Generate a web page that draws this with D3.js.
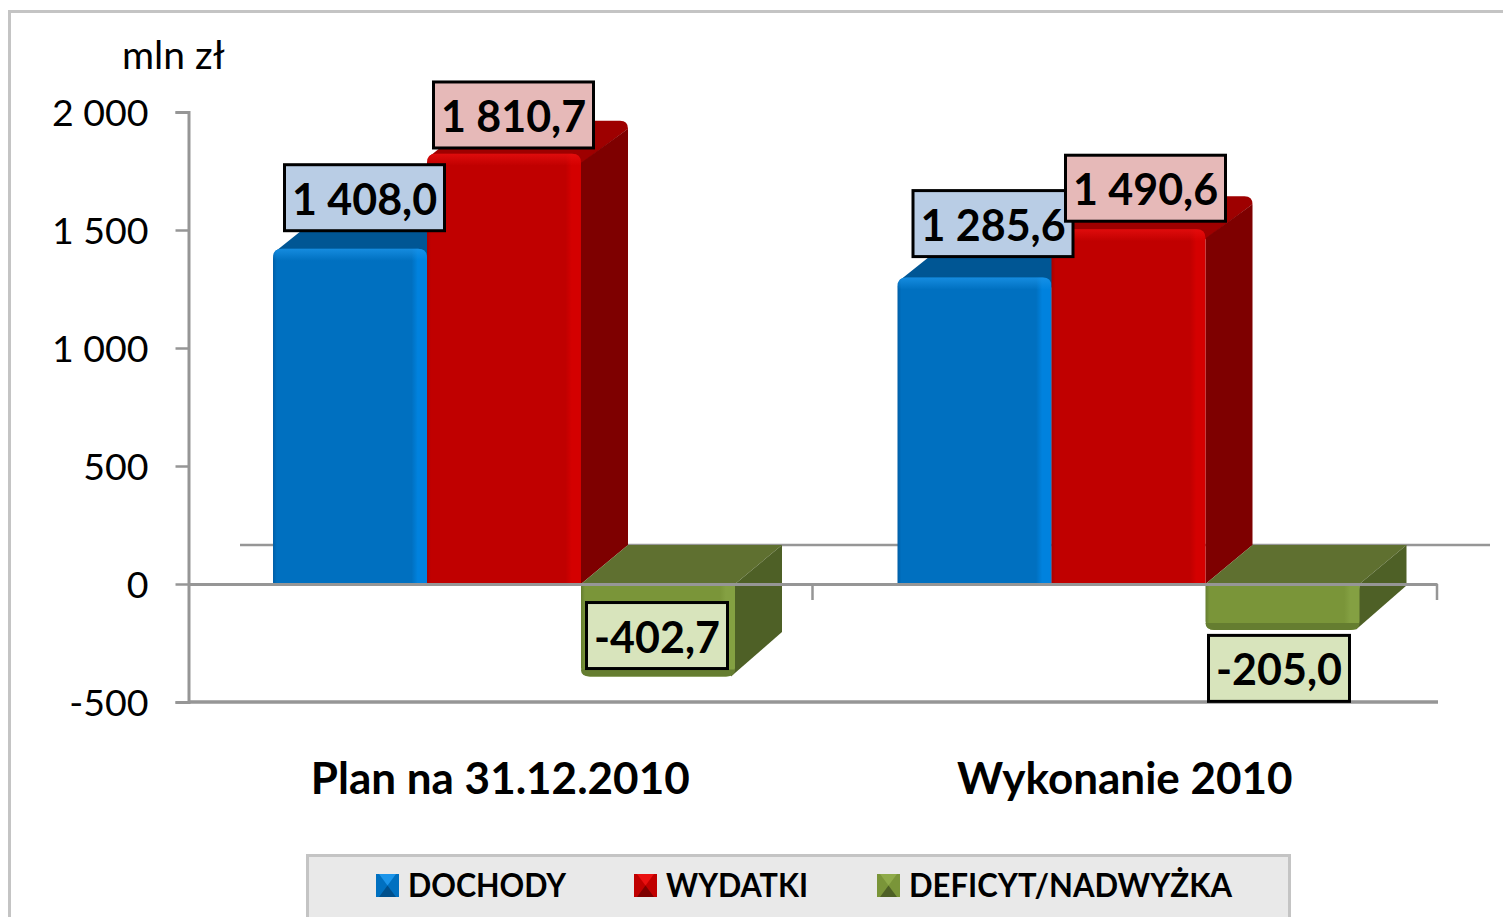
<!DOCTYPE html>
<html><head><meta charset="utf-8">
<script src="https://cdn.jsdelivr.net/npm/d3@7"></script>
<style>html,body{margin:0;padding:0;background:#fff;overflow:hidden}svg{display:block}text{font-family:Lato,"Open Sans",sans-serif}</style>
</head><body><svg id="c" width="1503" height="917"></svg>
<script>
const categories = ["Plan na 31.12.2010", "Wykonanie 2010"];
const seriesNames = ["DOCHODY", "WYDATKI", "DEFICYT/NADWYŻKA"];
const dochody = [1408.0, 1285.6];
const wydatki = [1810.7, 1490.6];
const deficyt = [-402.7, -205.0];
const yTicks = [-500, 0, 500, 1000, 1500, 2000];
const unitLabel = "mln zł";

const seriesValues = [dochody, wydatki, deficyt];
const palette = [
  {front:"#0070c0", light:"#0082de", dark:"#005ea6", top:"#005694", side:"#00508c", hi:"#1c95ea", box:"#b9cde5"},
  {front:"#c00000", light:"#d40000", dark:"#a80000", top:"#9e0000", side:"#7e0000", hi:"#ea1010", box:"#e6b9b8"},
  {front:"#7a9539", light:"#84a042", dark:"#657d30", top:"#5f7030", side:"#4e6026", hi:"#8fab4a", box:"#d8e4bc"}
];
// hand-placed label shift relative to its bar (series, category)
const labelShift = [
  [[14.5,-54],[18.5,-57]],
  [[9.5,-41.7],[17,-44]],
  [[-1,-43.5],[-3.5,36]]
];
const legendX = [376,634,877];
const legendW = [158,142,323];

const svg = d3.select("#c");
const defs = svg.append("defs");
const loc = d3.formatLocale({decimal:",",thousands:" ",grouping:[3],currency:["","zł"],minus:"-"});
const fmtTick = loc.format(",d"), fmtVal = loc.format(",.1f");

const y = d3.scaleLinear().domain([-500,2000]).range([702,112]);
const x0 = d3.scaleBand().domain(categories).range([188,1437]);
const x1 = d3.scaleBand().domain(seriesNames).range([85,547]);
const depthX = 47, depthY = -39;
const gray = "#969696";

// outer frame
svg.append("path").attr("d","M9.5,917V11.5H1503").attr("fill","none").attr("stroke","#c4c4c4").attr("stroke-width",3);

// gradients
palette.forEach((p,i)=>{
  const g = defs.append("linearGradient").attr("id","h"+i);
  [[0,p.dark],[0.025,p.front],[0.9,p.front],[0.94,p.light],[1,p.light]].forEach(s=>g.append("stop").attr("offset",s[0]).attr("stop-color",s[1]));
  const t = defs.append("linearGradient").attr("id","t"+i).attr("x2",0).attr("y2",1);
  t.append("stop").attr("offset",0).attr("stop-color",p.hi).attr("stop-opacity",.75);
  t.append("stop").attr("offset",1).attr("stop-color",p.hi).attr("stop-opacity",0);
});

// back floor line
svg.append("line").attr("x1",240).attr("x2",1490).attr("y1",y(0)+depthY).attr("y2",y(0)+depthY).attr("stroke",gray).attr("stroke-width",2.5);

// bars
const r = 9;
categories.forEach((c,ci)=>{
  seriesNames.forEach((s,si)=>{
    const v = seriesValues[si][ci], p = palette[si];
    const xl = x0(c)+x1(s), xr = xl+x1.bandwidth();
    const g = svg.append("g");
    if (v>=0) {
      const yb = y(0), yt = y(v)-3;
      const bx = xr+depthX, by = y(v)+depthY+3;
      g.append("path").attr("d",`M${xl+2},${yt+3} L${xl+depthX-5},${by+4} Q${xl+depthX},${by} ${xl+depthX+6},${by} H${bx-8} Q${bx},${by} ${bx},${by+8} L${xr},${yt+10} Z`).attr("fill",p.top);
      g.append("path").attr("d",`M${xr},${yt+9} L${bx},${by+8} V${yb+depthY} L${xr},${yb} Z`).attr("fill",p.side);
      g.append("path").attr("d",`M${xl},${yb} V${yt+r} Q${xl},${yt} ${xl+r},${yt} H${xr-r} Q${xr},${yt} ${xr},${yt+r} V${yb} Z`).attr("fill",`url(#h${si})`);
      g.append("path").attr("d",`M${xl},${yt+12} V${yt+r} Q${xl},${yt} ${xl+r},${yt} H${xr-r} Q${xr},${yt} ${xr},${yt+r} V${yt+12} Z`).attr("fill",`url(#t${si})`);
    } else {
      const yt = y(0), yb = y(v)-2.5;
      const bx = xr+depthX, by = yt+depthY;
      g.append("path").attr("d",`M${xl},${yt} L${xl+depthX},${by} H${bx} L${xr},${yt} Z`).attr("fill",p.top);
      g.append("path").attr("d",`M${xr},${yt} L${bx},${by} V${y(v)+depthY-8} L${xr-4},${yb} Z`).attr("fill",p.side);
      g.append("path").attr("d",`M${xl},${yt} H${xr} V${yb-r} Q${xr},${yb} ${xr-r},${yb} H${xl+r} Q${xl},${yb} ${xl},${yb-r} Z`).attr("fill",`url(#h${si})`);
      g.append("path").attr("d",`M${xl},${yb-7} H${xr} Q${xr},${yb} ${xr-r},${yb} H${xl+r} Q${xl},${yb} ${xl},${yb-7} Z`).attr("fill",p.dark);
    }
  });
});

// axes
const yAxis = d3.axisLeft(y).tickValues(yTicks).tickFormat(fmtTick).tickSize(13).tickPadding(27);
const ya = svg.append("g").attr("transform","translate(188.5,0)").call(yAxis);
ya.select(".domain").attr("stroke",gray).attr("stroke-width",3);
ya.selectAll(".tick line").attr("stroke",gray).attr("stroke-width",2.5);
ya.selectAll(".tick text").attr("fill","#000").attr("font-size",37.5).attr("font-family","Lato").attr("dy","0.37em");

const xa = d3.axisBottom(x0).tickSize(0).tickFormat(()=>"");
const xg = svg.append("g").attr("transform",`translate(0,${y(0)})`).call(xa);
xg.select(".domain").attr("stroke",gray).attr("stroke-width",3);
x0.domain().forEach(c=>{
  svg.append("line").attr("x1",x0(c)+x0.bandwidth()).attr("x2",x0(c)+x0.bandwidth()).attr("y1",y(0)).attr("y2",y(0)+16).attr("stroke",gray).attr("stroke-width",2.5);
});
svg.append("line").attr("x1",188).attr("x2",1438).attr("y1",y(-500)).attr("y2",y(-500)).attr("stroke",gray).attr("stroke-width",3.5);

svg.append("text").attr("x",122).attr("y",69).attr("font-size",39).text(unitLabel);

// category labels
categories.forEach(c=>{
  svg.append("text").attr("x",x0(c)+x0.bandwidth()/2).attr("y",794).attr("text-anchor","middle")
    .attr("font-size",44).attr("font-weight",700).attr("fill","#000").text(c);
});

// value labels
categories.forEach((c,ci)=>{
  seriesNames.forEach((s,si)=>{
    const v = seriesValues[si][ci];
    const cx = x0(c)+x1(s)+x1.bandwidth()/2+labelShift[si][ci][0];
    const cy = y(v)+labelShift[si][ci][1];
    const w = v>=0?160:141, h = 66;
    svg.append("rect").attr("x",cx-w/2).attr("y",cy-h/2).attr("width",w).attr("height",h)
      .attr("fill",palette[si].box).attr("stroke","#000").attr("stroke-width",3);
    svg.append("text").attr("x",cx).attr("y",cy+17).attr("text-anchor","middle")
      .attr("font-size",43).attr("font-weight",700).attr("fill","#000").text(fmtVal(v));
  });
});

// legend
svg.append("rect").attr("x",307.5).attr("y",855.5).attr("width",982).attr("height",70).attr("fill","#e9e9e9").attr("stroke","#c4c4c4").attr("stroke-width",3);
seriesNames.forEach((s,i)=>{
  const p = palette[i], lx = legendX[i], ly = 874, sz = 23, m = sz/2;
  const g = svg.append("g").attr("transform",`translate(${lx},${ly})`);
  g.append("rect").attr("width",sz).attr("height",sz).attr("fill",p.front);
  g.append("path").attr("d",`M3,0 H${sz-3} L${m},${m} Z`).attr("fill",p.hi);
  g.append("path").attr("d",`M3,${sz} H${sz-3} L${m},${m} Z`).attr("fill",p.side);
  svg.append("text").attr("x",lx+32).attr("y",897).attr("font-size",33).attr("font-weight",700).attr("fill","#000")
    .attr("textLength",legendW[i]).attr("lengthAdjust","spacingAndGlyphs").text(s);
});
</script></body></html>
